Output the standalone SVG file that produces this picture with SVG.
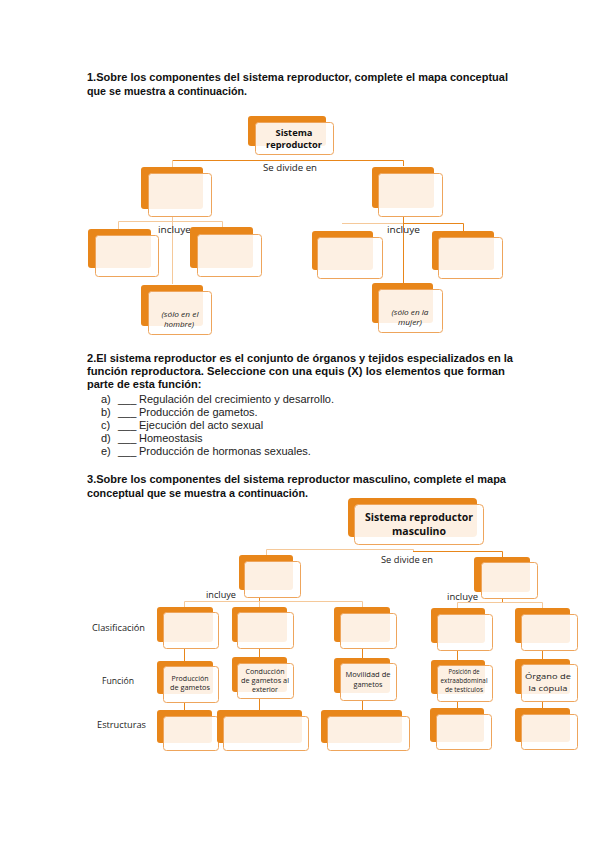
<svg xmlns="http://www.w3.org/2000/svg" width="599" height="848" viewBox="0 0 599 848">
<style>
.bg{fill:#ffffff}
.bk{fill:#E8861A}
.fr{fill:#ffffff;fill-opacity:0.88;stroke:#EEA55C;stroke-width:1}
.q{font-family:"Liberation Sans",Arial,sans-serif;font-size:11px;font-weight:bold;fill:#111}
.li{font-family:"Liberation Sans",Arial,sans-serif;font-size:11px;fill:#222}
.lb{font-family:"Open Sans","Liberation Sans",sans-serif;font-size:9.5px;fill:#222}
.tb{font-family:"Open Sans","Liberation Sans",sans-serif;font-weight:bold;fill:#111;text-anchor:middle}
.sm{font-family:"Open Sans","Liberation Sans",sans-serif;font-size:7px;fill:#222;text-anchor:middle}
.it{font-family:"Open Sans","Liberation Sans",sans-serif;font-size:7px;font-style:italic;fill:#222;text-anchor:middle}
.cd{stroke:#E8861A;stroke-width:1;fill:none}
.cl{stroke:#F5C99A;stroke-width:1;fill:none}
</style>
<rect class="bg" x="0" y="0" width="599" height="848"/>

<!-- Question texts -->
<text class="q" x="87" y="81" textLength="421" lengthAdjust="spacingAndGlyphs">1.Sobre los componentes del sistema reproductor, complete el mapa conceptual</text>
<text class="q" x="87" y="95" textLength="160" lengthAdjust="spacingAndGlyphs">que se muestra a continuación.</text>

<text class="q" x="87" y="362" textLength="426" lengthAdjust="spacingAndGlyphs">2.El sistema reproductor es el conjunto de órganos y tejidos especializados en la</text>
<text class="q" x="87" y="375" textLength="418" lengthAdjust="spacingAndGlyphs">función reproductora. Seleccione con una equis (X) los elementos que forman</text>
<text class="q" x="87" y="388">parte de esta función:</text>
<text class="li" x="101" y="403">a)</text><text class="li" x="118" y="403">___</text><text class="li" x="139" y="403">Regulación del crecimiento y desarrollo.</text>
<text class="li" x="101" y="416">b)</text><text class="li" x="118" y="416">___</text><text class="li" x="139" y="416">Producción de gametos.</text>
<text class="li" x="101" y="429">c)</text><text class="li" x="118" y="429">___</text><text class="li" x="139" y="429">Ejecución del acto sexual</text>
<text class="li" x="101" y="442">d)</text><text class="li" x="118" y="442">___</text><text class="li" x="139" y="442">Homeostasis</text>
<text class="li" x="101" y="455">e)</text><text class="li" x="118" y="455">___</text><text class="li" x="139" y="455">Producción de hormonas sexuales.</text>

<text class="q" x="87" y="483" textLength="419" lengthAdjust="spacingAndGlyphs">3.Sobre los componentes del sistema reproductor masculino, complete el mapa</text>
<text class="q" x="87" y="497" textLength="221" lengthAdjust="spacingAndGlyphs">conceptual que se muestra a continuación.</text>

<!-- Connectors -->
<g id="connectors">
  <!-- diagram 1 -->
  <path class="cd" d="M172 160.5 H403.5 V166"/>
  <path class="cl" d="M172.5 160 V167"/>
  <path class="cl" d="M172.5 216 V284"/>
  <path class="cl" d="M118.5 229 V221.5 H222.5 V227"/>
  <path class="cd" d="M403.5 216 V283"/>
  <path class="cl" d="M342 223.5 H403"/>
  <path class="cd" d="M403 223.5 H463.5 V231"/>
  <!-- diagram 3 -->
  <path class="cl" d="M266.5 555 V549.5 H413.5 V551.5"/>
  <path class="cd" d="M413 551.5 H502.5 V557"/>
  <path class="cd" d="M259.5 597 V601.5"/>
  <path class="cl" d="M184.5 607 V601.5 H362.5 V607"/>
  <path class="cl" d="M259.5 601 V607"/>
  <path class="cd" d="M502.5 598 V602.5"/>
  <path class="cl" d="M457.5 608 V602.5 H542.5 V608"/>
  <path class="cd" d="M184.5 648 V661 M259.5 648 V657 M362.5 648 V658 M457.5 650 V660 M542.5 650 V659"/>
  <path class="cd" d="M184.5 702 V710 M259.5 698 V710 M362.5 700 V710 M457.5 701 V708 M542.5 701 V708"/>
</g>

<!-- connector labels -->
<text class="lb" x="263" y="171" textLength="54" lengthAdjust="spacingAndGlyphs">Se divide en</text>
<text class="lb" x="158" y="233" textLength="33" lengthAdjust="spacingAndGlyphs">incluye</text>
<text class="lb" x="387" y="233" textLength="33" lengthAdjust="spacingAndGlyphs">incluye</text>
<text class="lb" x="381" y="563" textLength="52" lengthAdjust="spacingAndGlyphs">Se divide en</text>
<text class="lb" x="206" y="598" textLength="30" lengthAdjust="spacingAndGlyphs">incluye</text>
<text class="lb" x="447" y="600" textLength="31" lengthAdjust="spacingAndGlyphs">incluye</text>

<!-- row labels -->
<text class="lb" x="92" y="631" font-size="10" textLength="53" lengthAdjust="spacingAndGlyphs">Clasificación</text>
<text class="lb" x="102" y="684" font-size="10" textLength="32" lengthAdjust="spacingAndGlyphs">Función</text>
<text class="lb" x="97" y="728" font-size="10" textLength="49" lengthAdjust="spacingAndGlyphs">Estructuras</text>

<!-- Diagram 1 nodes -->
<g id="n1"><rect class="bk" x="248" y="116" width="78" height="30" rx="3"/><rect class="fr" x="255.5" y="122.5" width="78" height="32" rx="3"/>
<text class="tb" x="294" y="135.5" font-size="9.5" textLength="37" lengthAdjust="spacingAndGlyphs">Sistema</text>
<text class="tb" x="294" y="147.5" font-size="9.5" textLength="56" lengthAdjust="spacingAndGlyphs">reproductor</text></g>
<g id="n2"><rect class="bk" x="141" y="167" width="62" height="42" rx="3"/><rect class="fr" x="148.5" y="173.5" width="63" height="43" rx="3"/></g>
<g id="n3"><rect class="bk" x="372" y="167" width="62" height="41" rx="3"/><rect class="fr" x="378.5" y="173.5" width="64" height="43" rx="3"/></g>
<g id="n4"><rect class="bk" x="88" y="229" width="63" height="39" rx="3"/><rect class="fr" x="95.5" y="235.5" width="63" height="41" rx="3"/></g>
<g id="n5"><rect class="bk" x="190" y="227" width="63" height="41" rx="3"/><rect class="fr" x="197.5" y="234.5" width="64" height="42" rx="3"/></g>
<g id="n6"><rect class="bk" x="141" y="285" width="62" height="41" rx="3"/><rect class="fr" x="148.5" y="291.5" width="63" height="43" rx="3"/>
<text class="it" x="180" y="317" textLength="37" lengthAdjust="spacingAndGlyphs">(sólo en el</text>
<text class="it" x="179" y="327" textLength="30" lengthAdjust="spacingAndGlyphs">hombre)</text></g>
<g id="n7"><rect class="bk" x="312" y="231" width="61" height="39" rx="3"/><rect class="fr" x="317.5" y="237.5" width="65" height="41" rx="3"/></g>
<g id="n8"><rect class="bk" x="432" y="231" width="62" height="39" rx="3"/><rect class="fr" x="438.5" y="237.5" width="64" height="41" rx="3"/></g>
<g id="n9"><rect class="bk" x="372" y="283" width="61" height="40" rx="3"/><rect class="fr" x="378.5" y="289.5" width="64" height="43" rx="3"/>
<text class="it" x="410" y="315" textLength="37" lengthAdjust="spacingAndGlyphs">(sólo en la</text>
<text class="it" x="410" y="325" textLength="24" lengthAdjust="spacingAndGlyphs">mujer)</text></g>

<!-- Diagram 3 nodes -->
<g id="m1"><rect class="bk" x="348" y="498" width="129" height="39" rx="4"/><rect class="fr" x="354.5" y="504.5" width="129" height="40" rx="4"/>
<text class="tb" x="419" y="521" font-size="11" textLength="108" lengthAdjust="spacingAndGlyphs">Sistema reproductor</text>
<text class="tb" x="419" y="534.5" font-size="11" textLength="54" lengthAdjust="spacingAndGlyphs">masculino</text></g>
<g id="m2"><rect class="bk" x="239" y="555" width="54" height="35" rx="3"/><rect class="fr" x="244.5" y="561.5" width="56" height="36" rx="3"/></g>
<g id="m3"><rect class="bk" x="474" y="557" width="56" height="35" rx="3"/><rect class="fr" x="481.5" y="562.5" width="56" height="36" rx="3"/></g>

<g id="c1"><rect class="bk" x="157" y="607" width="56" height="35" rx="3"/><rect class="fr" x="163.5" y="612.5" width="55" height="36" rx="3"/></g>
<g id="c2"><rect class="bk" x="232" y="607" width="55" height="35" rx="3"/><rect class="fr" x="237.5" y="612.5" width="56" height="36" rx="3"/></g>
<g id="c3"><rect class="bk" x="334" y="607" width="56" height="35" rx="3"/><rect class="fr" x="340.5" y="613.5" width="56" height="35" rx="3"/></g>
<g id="c4"><rect class="bk" x="431" y="608" width="54" height="35" rx="3"/><rect class="fr" x="437.5" y="614.5" width="55" height="36" rx="3"/></g>
<g id="c5"><rect class="bk" x="515" y="608" width="55" height="35" rx="3"/><rect class="fr" x="521.5" y="614.5" width="56" height="36" rx="3"/></g>

<g id="f1"><rect class="bk" x="157" y="661" width="56" height="33" rx="3"/><rect class="fr" x="163.5" y="666.5" width="55" height="36" rx="3"/>
<text class="sm" x="190" y="681" textLength="37" lengthAdjust="spacingAndGlyphs">Producción</text>
<text class="sm" x="190" y="690" textLength="40" lengthAdjust="spacingAndGlyphs">de gametos</text></g>
<g id="f2"><rect class="bk" x="232" y="657" width="55" height="35" rx="3"/><rect class="fr" x="237.5" y="663.5" width="56" height="35" rx="3"/>
<text class="sm" x="265" y="674" textLength="39" lengthAdjust="spacingAndGlyphs">Conducción</text>
<text class="sm" x="265" y="683" textLength="48" lengthAdjust="spacingAndGlyphs">de gametos al</text>
<text class="sm" x="265" y="692" textLength="26" lengthAdjust="spacingAndGlyphs">exterior</text></g>
<g id="f3"><rect class="bk" x="334" y="658" width="56" height="35" rx="3"/><rect class="fr" x="340.5" y="663.5" width="56" height="37" rx="3"/>
<text class="sm" x="368" y="677" textLength="45" lengthAdjust="spacingAndGlyphs">Movilidad de</text>
<text class="sm" x="368" y="687" textLength="29" lengthAdjust="spacingAndGlyphs">gametos</text></g>
<g id="f4"><rect class="bk" x="431" y="660" width="54" height="34" rx="3"/><rect class="fr" x="437.5" y="665.5" width="55" height="36" rx="3"/>
<text class="sm" x="464" y="674" font-size="6" textLength="31" lengthAdjust="spacingAndGlyphs">Posición de</text>
<text class="sm" x="464" y="683" font-size="6" textLength="47" lengthAdjust="spacingAndGlyphs">extraabdominal</text>
<text class="sm" x="464" y="692" font-size="6" textLength="38" lengthAdjust="spacingAndGlyphs">de testículos</text></g>
<g id="f5"><rect class="bk" x="515" y="659" width="55" height="35" rx="3"/><rect class="fr" x="521.5" y="664.5" width="56" height="37" rx="3"/>
<text class="sm" x="548" y="679" font-size="10" textLength="46" lengthAdjust="spacingAndGlyphs">Órgano de</text>
<text class="sm" x="548" y="691" font-size="10" textLength="39" lengthAdjust="spacingAndGlyphs">la cópula</text></g>

<g id="e1"><rect class="bk" x="157" y="710" width="55" height="33" rx="3"/><rect class="fr" x="163.5" y="716.5" width="55" height="34" rx="3"/></g>
<g id="e2"><rect class="bk" x="217" y="710" width="85" height="33" rx="3"/><rect class="fr" x="223.5" y="716.5" width="85" height="34" rx="3"/></g>
<g id="e3"><rect class="bk" x="321" y="710" width="81" height="33" rx="3"/><rect class="fr" x="327.5" y="716.5" width="82" height="34" rx="3"/></g>
<g id="e4"><rect class="bk" x="430" y="708" width="54" height="34" rx="3"/><rect class="fr" x="436.5" y="714.5" width="55" height="35" rx="3"/></g>
<g id="e5"><rect class="bk" x="515" y="708" width="55" height="34" rx="3"/><rect class="fr" x="521.5" y="714.5" width="56" height="35" rx="3"/></g>
</svg>
